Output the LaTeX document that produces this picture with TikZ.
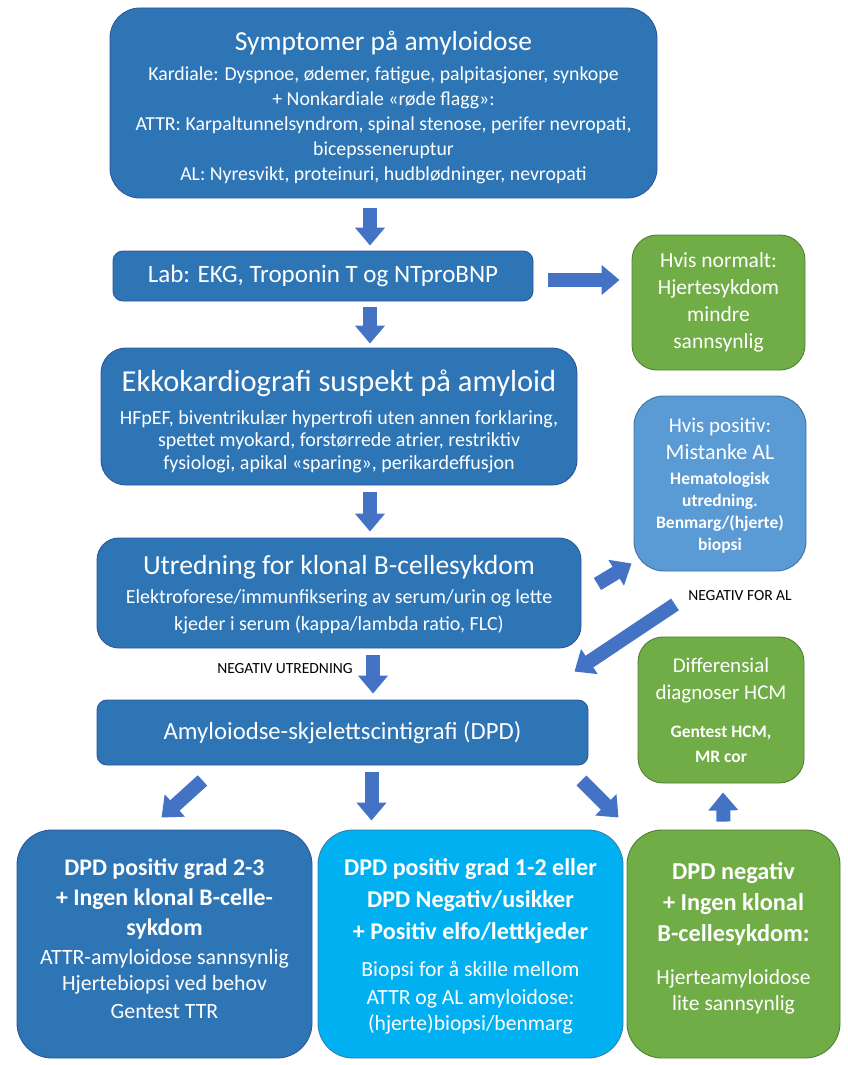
\documentclass[tikz,border=0pt]{standalone}
\usepackage{fontspec}
\setmainfont{Carlito}
\usetikzlibrary{arrows.meta,calc}
\definecolor{dblue}{HTML}{2E75B6}
\definecolor{dblueline}{HTML}{2F5597}
\definecolor{lblue}{HTML}{5B9BD5}
\definecolor{lblueline}{HTML}{41719C}
\definecolor{cyanbox}{HTML}{00B0F0}
\definecolor{cyanline}{HTML}{2F7FB0}
\definecolor{gbox}{HTML}{70AD47}
\definecolor{gline}{HTML}{507E32}
\definecolor{arrowfill}{HTML}{4472C4}
\newcommand{\fs}[2]{\fontsize{#1}{#2}\selectfont}
\begin{document}
\begin{tikzpicture}[x=1pt,y=-1pt,
  box/.style={rounded corners=#1, line width=0.9pt, inner sep=0pt},
  bluebox/.style={box=#1, fill=dblue, draw=dblueline},
  lightbox/.style={box=#1, fill=lblue, draw=lblueline},
  cyanb/.style={box=#1, fill=cyanbox, draw=cyanline},
  greenbox/.style={box=#1, fill=gbox, draw=gline},
  txt/.style={text=white, align=center, inner sep=0pt},
  barrow/.style={draw=arrowfill, line width=14pt, -{Triangle[length=18pt,width=29pt]}},
  lbl/.style={text=black, font=\fs{15.5}{18}, inner sep=0pt}
]
\useasboundingbox (0,0) rectangle (847,1065);

% boxes
\node[bluebox=30, minimum width=547, minimum height=190] (sym) at (383.5,103) {};
\node[txt, font=\fs{19.8}{25}] (symt) at ($(sym.center)+(0,4)$)
 {{\fs{27.5}{31}Symptomer på amyloidose}\\[5pt]
  Kardiale: Dyspnoe, ødemer, fatigue, palpitasjoner, synkope\\
  + Nonkardiale «røde flagg»:\\
  ATTR: Karpaltunnelsyndrom, spinal stenose, perifer nevropati,\\
  bicepsseneruptur\\
  AL: Nyresvikt, proteinuri, hudblødninger, nevropati};

\node[bluebox=10, minimum width=420, minimum height=50] (lab) at (323,276) {};
\node[txt, font=\fs{25}{28}] (labt) at (lab.center) {Lab: EKG, Troponin T og NTproBNP};

\node[greenbox=25, minimum width=173, minimum height=135] (norm) at (718.5,302.5) {};
\node[txt, font=\fs{21.5}{27}] (normt) at (norm.center)
 {Hvis normalt:\\ Hjertesykdom\\ mindre\\ sannsynlig};

\node[bluebox=25, minimum width=476, minimum height=137] (ekko) at (339,416.5) {};
\node[txt, font=\fs{20}{22.5}] (ekkot) at ($(ekko.center)+(0,5)$)
 {{\fs{30.5}{34}Ekkokardiografi suspekt på amyloid}\\[10pt]
  HFpEF, biventrikulær hypertrofi uten annen forklaring,\\
  spettet myokard, forstørrede atrier, restriktiv\\
  fysiologi, apikal «sparing», perikardeffusjon};

\node[lightbox=30, minimum width=172, minimum height=175] (pos) at (720,483.5) {};
\node[txt, font=\fs{17.5}{22}] (post) at ($(pos.center)+(0,2)$)
 {{\fs{21}{27}Hvis positiv:}\\[5pt] {\fs{22}{28}Mistanke AL}\\[3pt]
  \bfseries Hematologisk\\ \bfseries utredning.\\
  \bfseries Benmarg/(hjerte)\\ \bfseries biopsi};

\node[bluebox=22, minimum width=484, minimum height=110] (utr) at (339,593) {};
\node[txt, font=\fs{20}{27}] (utrt) at ($(utr.center)+(0,2)$)
 {{\fs{27.6}{31}Utredning for klonal B-cellesykdom}\\[2pt]
  Elektroforese/immunfiksering av serum/urin og lette\\
  kjeder i serum (kappa/lambda ratio, FLC)};

\node[bluebox=10, minimum width=491, minimum height=65] (amy) at (342.5,732.5) {};
\node[txt, font=\fs{24.7}{28}] (amyt) at (amy.center) {Amyloiodse-skjelettscintigrafi (DPD)};

\node[greenbox=25, minimum width=166, minimum height=146] (diff) at (721,710) {};
\node[txt, font=\fs{21}{27}] (difft) at (diff.center)
 {Differensial\\ diagnoser HCM\\[11pt]
  {\fs{17.5}{25}\bfseries Gentest HCM,}\\[-2pt] {\fs{17.5}{25}\bfseries MR cor}};

\node[bluebox=35, minimum width=295, minimum height=228] (b1) at (164.5,944) {};
\node[txt, font=\fs{21.8}{28}] (b1t) at ($(b1.center)+(0,-5)$)
 {{\fs{23.8}{30}\bfseries DPD positiv grad 2-3}\\[2pt]
  {\fs{23.8}{30}\bfseries + Ingen klonal B-celle-}\\[2pt]
  {\fs{23.8}{30}\bfseries sykdom}\\[1pt]
  ATTR-amyloidose sannsynlig\\[-2pt]
  Hjertebiopsi ved behov\\
  Gentest TTR};

\node[cyanb=35, minimum width=305, minimum height=228] (b2) at (470.5,944) {};
\node[txt, font=\fs{21.6}{27}] (b2t) at ($(b2.center)+(0,2)$)
 {{\fs{24.1}{31}\bfseries DPD positiv grad 1-2 eller}\\[5pt]
  {\fs{24.1}{31}\bfseries DPD Negativ/usikker}\\[5pt]
  {\fs{24.1}{31}\bfseries + Positiv elfo/lettkjeder}\\[10pt]
  Biopsi for å skille mellom\\[1pt]
  ATTR og AL amyloidose:\\[-1pt]
  (hjerte)biopsi/benmarg};

\node[greenbox=35, minimum width=213, minimum height=228] (b3) at (733.5,944) {};
\node[txt, font=\fs{21.5}{26}] (b3t) at ($(b3.center)+(0,-6)$)
 {{\fs{24.3}{31}\bfseries DPD negativ}\\[5pt]
  {\fs{24.3}{31}\bfseries + Ingen klonal}\\[5pt]
  {\fs{24.3}{31}\bfseries B-cellesykdom:}\\[17pt]
  Hjerteamyloidose\\
  lite sannsynlig};

% labels
\node[lbl] (l1) at (285,669) {NEGATIV UTREDNING};
\node[lbl] (l2) at (740,596) {NEGATIV FOR AL};

% arrows
\coordinate (labR) at ($(lab.east)+(15,4)$);
\draw[barrow] ($(sym.south)+(-13.5,10)$) -- ($(lab.north)+(47,-5)$);
\draw[barrow, shorten >=12pt] (labR) -- (labR -| norm.west);
\draw[barrow] ($(lab.south)+(47,6)$) -- ($(ekko.north)+(31,-4)$);
\draw[barrow] ($(ekko.south)+(31,7)$) -- ($(utr.north)+(31,-6)$);
\draw[barrow] ($(utr.east)+(16,-9)$) -- ($(pos.south west)+(-2,-8)$);
\draw[barrow] ($(pos.south)+(-45,33)$) -- ($(amy.north east)+(-14,-28)$);
\draw[barrow] ($(utr.south)+(34,7)$) -- ($(amy.north)+(30.5,-6)$);
\draw[barrow] ($(amy.south)+(-140,15)$) -- ($(b1.north)+(-3,-12)$);
\draw[barrow] ($(amy.south)+(29,7)$) -- ($(b2.north)+(-99,-9)$);
\draw[barrow] ($(amy.south)+(239,15)$) -- ($(b3.north)+(-115,-12)$);
\draw[barrow] ($(b3.north)+(-10,-8)$) -- ($(diff.south)+(2,9)$);
\end{tikzpicture}
\end{document}
